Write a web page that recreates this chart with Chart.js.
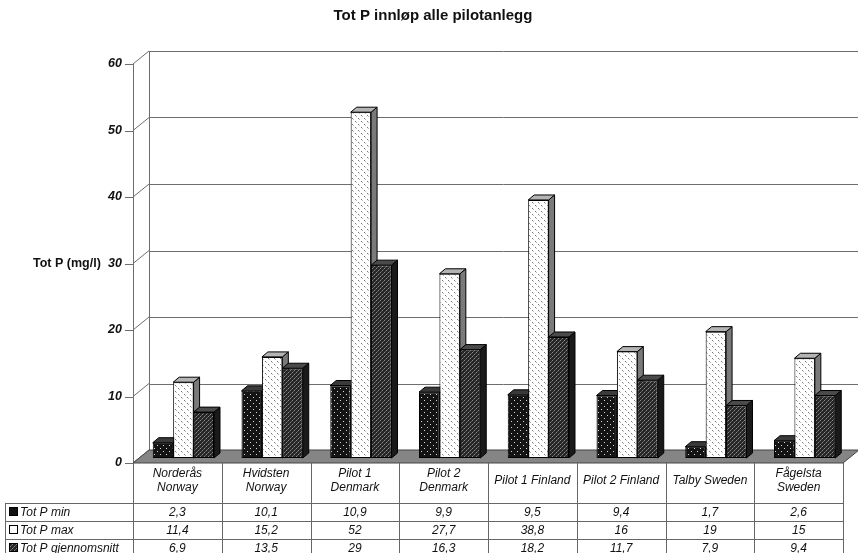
<!DOCTYPE html>
<html>
<head>
<meta charset="utf-8">
<script src="https://cdn.jsdelivr.net/npm/chart.js@4/dist/chart.umd.min.js"></script>
<style>
  html, body { margin: 0; padding: 0; background: #fff; }
  canvas { display: block; }
</style>
</head>
<body>
<canvas id="c" width="858" height="553"></canvas>
<script>
// ---- data ----
const categories = [
  ['Norderås', 'Norway'], ['Hvidsten', 'Norway'], ['Pilot 1', 'Denmark'], ['Pilot 2', 'Denmark'],
  ['Pilot 1 Finland'], ['Pilot 2 Finland'], ['Talby Sweden'], ['Fågelsta', 'Sweden']
];
const seriesNames = ['Tot P min', 'Tot P max', 'Tot P gjennomsnitt'];
const totPMin  = [2.3, 10.1, 10.9, 9.9, 9.5, 9.4, 1.7, 2.6];
const totPMax  = [11.4, 15.2, 52, 27.7, 38.8, 16, 19, 15];
const totPMean = [6.9, 13.5, 29, 16.3, 18.2, 11.7, 7.9, 9.4];
const yTicks   = [0, 10, 20, 30, 40, 50, 60];

const chartTitle = 'Tot P innløp alle pilotanlegg';
const yTitle = 'Tot P (mg/l)';

// ---- 3D geometry (offsets relative to the plane the bars stand in) ----
const FRONT = { x: -6, y: 5 };   // front edge of the floor / axis
const BACK  = { x: 10, y: -8 };  // back wall
const DEPTH = { x: 6, y: -5 };   // depth of each bar
const FONT = '"Liberation Sans", Arial, sans-serif';

// ---- fill patterns ----
function makePattern(size, bg, dots) {
  const c = document.createElement('canvas');
  c.width = size; c.height = size;
  const g = c.getContext('2d');
  g.fillStyle = bg; g.fillRect(0, 0, size, size);
  dots.forEach(([x, y, col]) => { g.fillStyle = col; g.fillRect(x, y, 1, 1); });
  return g.createPattern(c, 'repeat');
}
const ctxMain = document.getElementById('c').getContext('2d');
const patMin  = makePattern(6, '#141414', [[1, 1, '#d8d8d8'], [4, 4, '#d8d8d8']]);
const patMax  = makePattern(6, '#ffffff', [[1, 1, '#777'], [4, 4, '#777'], [2, 2, '#bbb'], [5, 5, '#bbb']]);
const patMean = makePattern(4, '#262626', [[0, 0, '#8a8a8a'], [2, 2, '#8a8a8a'], [1, 3, '#5e5e5e'], [3, 1, '#5e5e5e']]);

const frontFills = [patMin, patMax, patMean];
const topFills   = ['#3a3a3a', '#b4b4b4', '#4a4a4a'];
const sideFills  = ['#050505', '#7a7a7a', '#1a1a1a'];
const legendFills = ['#111', '#fff', '#555'];

const fmt = v => String(v).replace('.', ',');

function poly(ctx, pts, fill) {
  ctx.beginPath();
  ctx.moveTo(pts[0][0], pts[0][1]);
  for (let i = 1; i < pts.length; i++) ctx.lineTo(pts[i][0], pts[i][1]);
  ctx.closePath();
  ctx.fillStyle = fill; ctx.fill();
  ctx.strokeStyle = '#000'; ctx.lineWidth = 1; ctx.stroke();
}

// Walls, floor, grid and the top/side faces of the bars
const scenePlugin = {
  id: 'scene3d',
  beforeDatasetsDraw(chart) {
    const { ctx, chartArea: a, scales: { y } } = chart;
    const yb = v => y.getPixelForValue(v) + BACK.y;
    const yf = v => y.getPixelForValue(v) + FRONT.y;
    const xFL = a.left + FRONT.x, xBL = a.left + BACK.x;
    const xFR = a.right + FRONT.x, xBR = a.right + BACK.x;
    const top = yTicks[yTicks.length - 1];
    ctx.save();
    ctx.lineWidth = 1;
    // grid lines on the back wall, wall edges and tick marks
    ctx.strokeStyle = '#6e6e6e';
    yTicks.forEach(v => {
      ctx.beginPath();
      if (v > 0) { ctx.moveTo(xBL, Math.round(yb(v)) + 0.5); ctx.lineTo(chart.width, Math.round(yb(v)) + 0.5); }
      ctx.moveTo(xFL, yf(v)); ctx.lineTo(xBL, yb(v));
      ctx.moveTo(xFL - 8, Math.round(yf(v)) + 0.5); ctx.lineTo(xFL, Math.round(yf(v)) + 0.5);
      ctx.stroke();
    });
    ctx.beginPath();
    ctx.moveTo(xBL + 0.5, yb(top)); ctx.lineTo(xBL + 0.5, yb(0));
    ctx.moveTo(xFL + 0.5, yf(top)); ctx.lineTo(xFL + 0.5, yf(0));
    ctx.stroke();
    // floor
    ctx.beginPath();
    ctx.moveTo(xFL, yf(0)); ctx.lineTo(xBL, yb(0)); ctx.lineTo(xBR, yb(0)); ctx.lineTo(xFR, yf(0));
    ctx.closePath();
    ctx.fillStyle = '#858585'; ctx.fill();
    ctx.strokeStyle = '#444'; ctx.stroke();

    // bar sides, then bar tops (fronts are drawn by Chart.js afterwards)
    const metas = chart.data.datasets.map((_, i) => chart.getDatasetMeta(i));
    metas.forEach((m, i) => m.data.forEach(el => {
      const p = el.getProps(['x', 'y', 'base', 'width'], true);
      const r = p.x + p.width / 2;
      poly(ctx, [[r, p.y], [r + DEPTH.x, p.y + DEPTH.y], [r + DEPTH.x, p.base + DEPTH.y], [r, p.base]], sideFills[i]);
    }));
    metas.forEach((m, i) => m.data.forEach(el => {
      const p = el.getProps(['x', 'y', 'base', 'width'], true);
      const l = p.x - p.width / 2, r = p.x + p.width / 2;
      poly(ctx, [[l, p.y], [l + DEPTH.x, p.y + DEPTH.y], [r + DEPTH.x, p.y + DEPTH.y], [r, p.y]], topFills[i]);
    }));
    ctx.restore();
  },
  afterDraw(chart) {
    const { ctx, chartArea: a, scales: { x, y } } = chart;
    const yf = v => y.getPixelForValue(v) + FRONT.y;
    const xFL = a.left + FRONT.x, xFR = a.right + FRONT.x;
    const catW = a.width / categories.length;
    ctx.save();
    ctx.fillStyle = '#111';
    // title
    ctx.font = 'bold 15px ' + FONT;
    ctx.textAlign = 'center'; ctx.textBaseline = 'middle';
    ctx.fillText(chartTitle, 433, 16);
    // y axis title and tick labels
    ctx.font = 'bold 12.5px ' + FONT;
    ctx.textAlign = 'left';
    ctx.fillText(yTitle, 33, Math.round(yf(30)));
    ctx.font = 'italic bold 12.5px ' + FONT;
    ctx.textAlign = 'right';
    yTicks.forEach(v => ctx.fillText(String(v), xFL - 11, Math.round(yf(v))));

    // data table
    const tTop = Math.round(yf(0));
    const headH = 40, rowH = 18, tLeft = 5;
    const rowsTop = tTop + headH;
    ctx.strokeStyle = '#666'; ctx.lineWidth = 1;
    ctx.beginPath();
    for (let i = 0; i <= categories.length; i++) {
      const cx = Math.round(x.getPixelForValue(0) - catW / 2 + FRONT.x + i * catW) + 0.5;
      ctx.moveTo(cx, tTop); ctx.lineTo(cx, chart.height);
    }
    for (let r = 0; r < seriesNames.length; r++) {
      const ry = rowsTop + r * rowH + 0.5;
      ctx.moveTo(tLeft, ry); ctx.lineTo(xFR, ry);
    }
    ctx.moveTo(tLeft + 0.5, rowsTop); ctx.lineTo(tLeft + 0.5, chart.height);
    ctx.stroke();

    ctx.font = 'italic 12px ' + FONT;
    ctx.textAlign = 'center'; ctx.textBaseline = 'middle';
    const series = [totPMin, totPMax, totPMean];
    categories.forEach((lab, i) => {
      const cx = x.getPixelForValue(i) + FRONT.x;
      if (lab.length === 2) {
        ctx.fillText(lab[0], cx, tTop + 11);
        ctx.fillText(lab[1], cx, tTop + 25);
      } else {
        ctx.fillText(lab[0], cx, tTop + 18);
      }
      series.forEach((s, r) => ctx.fillText(fmt(s[i]), cx, rowsTop + r * rowH + 10));
    });
    ctx.textAlign = 'left';
    seriesNames.forEach((n, r) => {
      const cy = rowsTop + r * rowH + 9;
      ctx.fillStyle = r === 2 ? patMean : legendFills[r];
      ctx.fillRect(9.5, cy - 4.5, 8, 8);
      ctx.strokeStyle = '#000';
      ctx.strokeRect(9.5, cy - 4.5, 8, 8);
      ctx.fillStyle = '#111';
      ctx.fillText(n, 20, cy + 1);
    });
    ctx.restore();
  }
};

const dataSets = [totPMin, totPMax, totPMean].map((vals, i) => ({
  label: seriesNames[i],
  data: vals,
  backgroundColor: frontFills[i],
  borderColor: '#000',
  borderWidth: 1,
  borderSkipped: false,
  categoryPercentage: 0.69,
  barPercentage: 1
}));

new Chart(ctxMain, {
  type: 'bar',
  data: { labels: categories, datasets: dataSets },
  options: {
    responsive: false,
    animation: false,
    layout: { padding: { left: 139, right: 9, top: 59, bottom: 95 } },
    plugins: { legend: { display: false }, tooltip: { enabled: false }, title: { display: false } },
    scales: {
      x: { display: false, offset: true },
      y: { display: false, min: 0, max: 60 }
    }
  },
  plugins: [scenePlugin]
});
</script>
</body>
</html>
